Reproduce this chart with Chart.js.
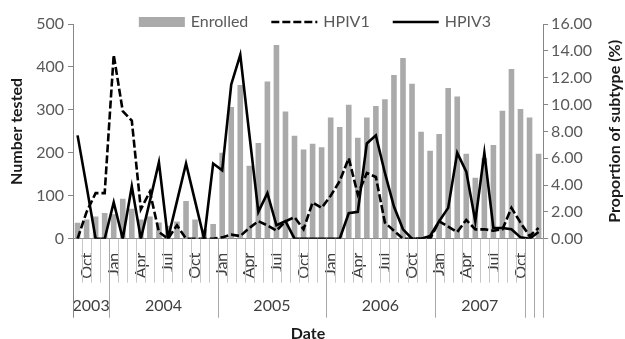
<!DOCTYPE html>
<html>
<head>
<meta charset="utf-8">
<script src="https://cdn.jsdelivr.net/npm/chart.js@4/dist/chart.umd.min.js"></script>
<style>
  body { margin: 0; background: #fff; }
</style>
</head>
<body>
<canvas id="myChart" width="625" height="339"></canvas>
<script>
// monthly, Sep 2003 - Dec 2007
const months = [
  'Sep', 'Oct', 'Nov', 'Dec',
  'Jan', 'Feb', 'Mar', 'Apr', 'May', 'Jun', 'Jul', 'Aug', 'Sep', 'Oct', 'Nov', 'Dec',
  'Jan', 'Feb', 'Mar', 'Apr', 'May', 'Jun', 'Jul', 'Aug', 'Sep', 'Oct', 'Nov', 'Dec',
  'Jan', 'Feb', 'Mar', 'Apr', 'May', 'Jun', 'Jul', 'Aug', 'Sep', 'Oct', 'Nov', 'Dec',
  'Jan', 'Feb', 'Mar', 'Apr', 'May', 'Jun', 'Jul', 'Aug', 'Sep', 'Oct', 'Nov', 'Dec',
];
const shownMonths = ['Jan', 'Apr', 'Jul', 'Oct'];

// year groups on the second level of the axis (last two groups are blank)
const yearLabels = ['2003', '2004', '2005', '2006', '2007', '', ''];
const yearSpans = [4, 12, 12, 12, 10, 1, 1];

const enrolled = [
  37, 45, 52, 60,
  57, 93, 70, 45, 52, 38, 30, 40, 88, 45, 22, 34,
  200, 307, 358, 170, 223, 366, 451, 296, 240, 208, 221, 213,
  282, 260, 312, 235, 282, 309, 325, 381, 421, 361, 249, 205,
  244, 351, 331, 198, 142, 188, 218, 298, 395, 302, 282, 198,
];

const hpiv1 = [
  0, 2.0, 3.4, 3.4,
  13.7, 9.5, 8.8, 2.2, 3.5, 0.5, 0, 1.0, 0, 0, 0, 0,
  0.1, 0.3, 0.2, 0.8, 1.3, 1.0, 0.6, 1.3, 1.6, 0.7, 2.7, 2.3,
  3.2, 4.3, 6.0, 3.3, 4.9, 4.6, 1.2, 0.6, 0, 0, 0, 0,
  1.3, 0.9, 0.5, 1.4, 0.7, 0.7, 0.6, 0.7, 2.3, 1.2, 0.2, 0.8,
];

const hpiv3 = [
  7.7, 3.9, 0, 0,
  2.7, 0, 3.9, 0, 2.8, 5.7, 0, 2.8, 5.6, 2.8, 0, 5.6,
  5.1, 11.5, 13.7, 7.8, 2.0, 3.4, 1.0, 1.3, 0, 0, 0, 0,
  0, 0, 1.9, 2.0, 7.1, 7.7, 4.9, 2.4, 0.7, 0, 0, 0.2,
  1.3, 2.3, 6.4, 5.0, 1.3, 6.4, 0.8, 0.8, 0.7, 0.1, 0, 0.5,
];

const FONT = 'Lato';
const axisColor = '#868686';
const labelColor = '#595959';

// legend sits over the top of the plot, so it is drawn here instead of by the legend plugin
const drawLegend = (chart) => {
  const { ctx } = chart;
  const boxW = 46;
  const gap = 6;
  const spacing = 23;
  const y = 22;
  ctx.font = '16px ' + FONT;
  const items = chart.data.datasets.map((ds) => ({ ds, w: boxW + gap + ctx.measureText(ds.label).width }));
  const total = items.reduce((acc, it) => acc + it.w, 0) + spacing * (items.length - 1);
  let x = 315 - total / 2;
  items.forEach(({ ds, w }) => {
    if (ds.type === 'bar') {
      ctx.fillStyle = ds.backgroundColor;
      ctx.fillRect(x, y - 5, boxW, 10);
    } else {
      ctx.strokeStyle = ds.borderColor;
      ctx.lineWidth = ds.borderWidth;
      ctx.setLineDash(ds.borderDash || []);
      ctx.beginPath();
      ctx.moveTo(x, y);
      ctx.lineTo(x + boxW, y);
      ctx.stroke();
      ctx.setLineDash([]);
    }
    ctx.fillStyle = labelColor;
    ctx.textAlign = 'left';
    ctx.textBaseline = 'middle';
    ctx.fillText(ds.label, x + boxW + gap, y);
    x += w + spacing;
  });
};

// draws the month/year separators, year labels, right axis title and legend
const categoryAxisPlugin = {
  id: 'categoryAxis',
  afterDraw(chart) {
    const { ctx, chartArea } = chart;
    const xs = chart.scales.x;
    const bottom = chartArea.bottom;
    const edge = (i) => Math.round(xs.getPixelForValue(i - 0.5)) + 0.5;

    ctx.save();
    ctx.lineWidth = 1;
    ctx.strokeStyle = '#c6c6c6';
    for (let i = 0; i <= months.length; i++) {
      ctx.beginPath();
      ctx.moveTo(edge(i), bottom);
      ctx.lineTo(edge(i), bottom + 44);
      ctx.stroke();
    }

    let start = 0;
    ctx.font = '16px ' + FONT;
    ctx.fillStyle = '#404040';
    ctx.textAlign = 'center';
    ctx.textBaseline = 'middle';
    const ends = [0];
    yearSpans.forEach((n, k) => {
      const mid = (xs.getPixelForValue(start - 0.5) + xs.getPixelForValue(start + n - 0.5)) / 2;
      if (yearLabels[k]) ctx.fillText(yearLabels[k], mid, bottom + 67);
      start += n;
      ends.push(start);
    });
    ends.forEach((i, k) => {
      ctx.strokeStyle = k === 0 ? axisColor : '#a8a8a8';
      ctx.beginPath();
      ctx.moveTo(edge(i), bottom);
      ctx.lineTo(edge(i), bottom + 79);
      ctx.stroke();
    });

    ctx.save();
    ctx.translate(chart.width - 10, (chartArea.top + chartArea.bottom) / 2);
    ctx.rotate(-Math.PI / 2);
    ctx.font = 'bold 16px ' + FONT;
    ctx.fillStyle = '#1a1a1a';
    ctx.fillText('Proportion of subtype (%)', 0, 0);
    ctx.restore();

    drawLegend(chart);
    ctx.restore();
  },
};

const ctx = document.getElementById('myChart').getContext('2d');
const myChart = new Chart(ctx, {
  data: {
    labels: months,
    datasets: [
      {
        type: 'bar',
        label: 'Enrolled',
        data: enrolled,
        backgroundColor: '#aaaaaa',
        borderWidth: 0,
        yAxisID: 'y',
        order: 1,
        barPercentage: 0.62,
        categoryPercentage: 1,
      },
      {
        type: 'line',
        label: 'HPIV1',
        data: hpiv1,
        borderColor: '#000',
        borderWidth: 2.6,
        borderDash: [8, 3],
        pointRadius: 0,
        tension: 0,
        yAxisID: 'y1',
        order: 0,
      },
      {
        type: 'line',
        label: 'HPIV3',
        data: hpiv3,
        borderColor: '#000',
        borderWidth: 2.6,
        pointRadius: 0,
        tension: 0,
        yAxisID: 'y1',
        order: 0,
      },
    ],
  },
  options: {
    responsive: false,
    animation: false,
    layout: { padding: { top: 24, left: 0, right: 30, bottom: -4 } },
    plugins: {
      tooltip: { enabled: false },
      legend: { display: false },
    },
    scales: {
      x: {
        type: 'category',
        offset: true,
        grid: { display: false, drawTicks: false },
        border: { display: true, color: axisColor, width: 1 },
        ticks: {
          autoSkip: false,
          maxRotation: 90,
          minRotation: 90,
          padding: 14,
          color: '#404040',
          font: { family: FONT, size: 16 },
          callback: function (value) {
            const m = this.getLabelForValue(value);
            return shownMonths.includes(m) ? m : '';
          },
        },
        title: {
          display: true,
          text: 'Date',
          color: '#1a1a1a',
          font: { family: FONT, size: 16, weight: 'bold' },
          padding: { top: 31, bottom: 0 },
        },
      },
      y: {
        position: 'left',
        min: 0,
        max: 500,
        grid: { drawOnChartArea: false, color: axisColor, tickLength: 5 },
        border: { color: axisColor, width: 1 },
        ticks: {
          stepSize: 50,
          padding: 4,
          color: labelColor,
          font: { family: FONT, size: 16 },
        },
        title: {
          display: true,
          text: 'Number tested',
          color: '#1a1a1a',
          font: { family: FONT, size: 16, weight: 'bold' },
          padding: { top: 7, bottom: 6 },
        },
      },
      y1: {
        position: 'right',
        min: 0,
        max: 16,
        grid: { drawOnChartArea: false, color: axisColor, tickLength: 5 },
        border: { color: axisColor, width: 1 },
        ticks: {
          stepSize: 2,
          padding: 3,
          color: labelColor,
          font: { family: FONT, size: 16 },
          callback: (v) => v.toFixed(2),
        },
      },
    },
  },
  plugins: [categoryAxisPlugin],
});
</script>
</body>
</html>
